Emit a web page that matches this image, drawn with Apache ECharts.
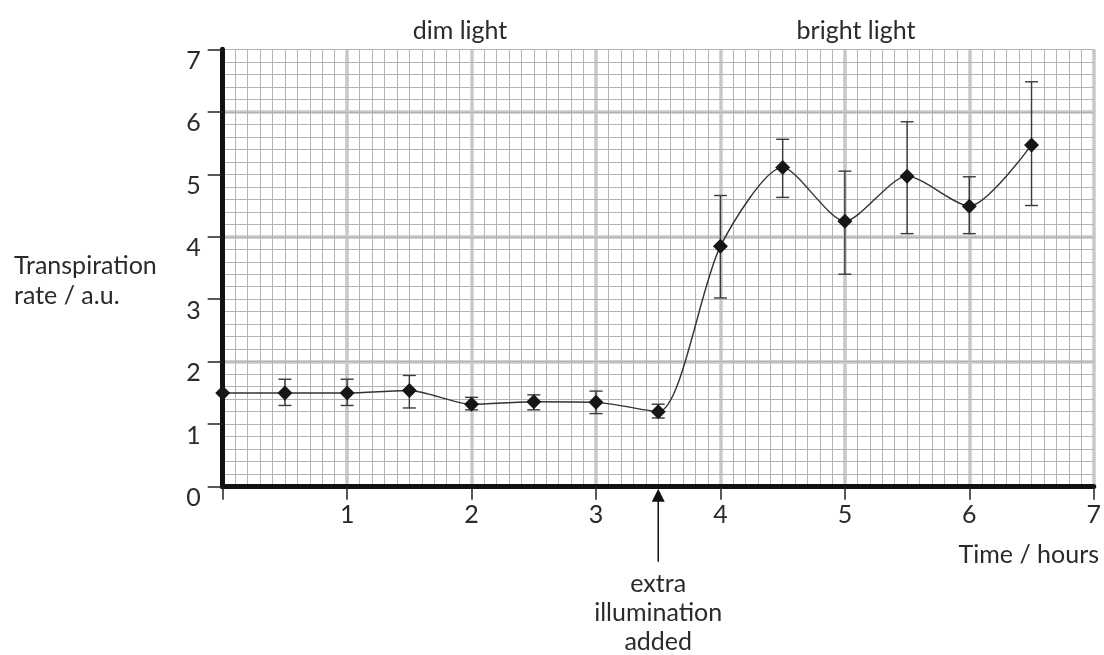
<!DOCTYPE html>
<html>
<head>
<meta charset="utf-8">
<script src="https://cdn.jsdelivr.net/npm/echarts@6/dist/echarts.min.js"></script>
<style>
html,body{margin:0;padding:0;background:#fff;}
#chart{width:1104px;height:655px;}
</style>
</head>
<body>
<div id="chart"></div>
<script>
// ---- data ----
const times    = [0, 0.5, 1, 1.5, 2, 2.5, 3, 3.5, 4, 4.5, 5, 5.5, 6, 6.5];
const rate     = [1.5, 1.5, 1.5, 1.54, 1.32, 1.36, 1.35, 1.2, 3.85, 5.11, 4.25, 4.97, 4.49, 5.47];
const errLow   = [null, 1.3, 1.3, 1.26, 1.23, 1.23, 1.17, 1.1, 3.02, 4.63, 3.4, 4.05, 4.05, 4.5];
const errHigh  = [null, 1.72, 1.72, 1.78, 1.43, 1.47, 1.53, 1.32, 4.66, 5.56, 5.05, 5.84, 4.96, 6.48];
const xTicks   = [1, 2, 3, 4, 5, 6, 7];
const yTicks   = [0, 1, 2, 3, 4, 5, 6, 7];
const yTitle   = 'Transpiration\nrate / a.u.';
const xTitle   = 'Time / hours';
const phaseLabels = ['dim light', 'bright light'];
const illumTime = 3.5;
const illumLabel = 'extra\nillumination\nadded';

const FONT = 'Lato';
const FS = 25;
const TXT = '#2a2a2a';
const MINOR = '#b4b4b4';
const MAJOR = '#c8c8c8';

const lineData = times.map((t, i) => [t, rate[i]]);
const errData = times.map((t, i) => [t, errLow[i], errHigh[i]]).filter(d => d[1] != null);

const chart = echarts.init(document.getElementById('chart'), null, {renderer: 'canvas'});

const option = {
  backgroundColor: '#fff',
  animation: false,
  grid: {left: 222.7, right: 6.3, top: 49.3, bottom: 168.3, containLabel: false},
  xAxis: [{
    type: 'value', min: 0, max: 7, interval: 1,
    axisLine: {show: true, onZero: false, lineStyle: {color: '#111', width: 5}},
    axisTick: {show: true, inside: false, length: 13, lineStyle: {color: '#222', width: 1.5}},
    axisLabel: {
      margin: 16, fontFamily: FONT, fontSize: FS, color: TXT,
      formatter: v => (xTicks.indexOf(v) >= 0 ? String(v) : '')
    },
    splitLine: {show: true, showMinLine: false, lineStyle: {color: MAJOR, width: 3.5}},
    minorTick: {show: false, splitNumber: 10},
    minorSplitLine: {show: true, lineStyle: {color: MINOR, width: 1}}
  }],
  yAxis: [{
    type: 'value', min: 0, max: 7, interval: 1,
    axisLine: {show: true, onZero: false, lineStyle: {color: '#111', width: 5}},
    axisTick: {show: true, inside: false, length: 15, lineStyle: {color: '#222', width: 1.5}},
    axisLabel: {
      margin: 22, fontFamily: FONT, fontSize: FS, color: TXT,
      verticalAlign: 'top', lineHeight: 23,
      formatter: v => (yTicks.indexOf(v) >= 0 ? String(v) : '')
    },
    splitLine: {show: true, showMinLine: false, lineStyle: {color: MINOR, width: 1}},
    minorTick: {show: false, splitNumber: 5},
    minorSplitLine: {show: true, lineStyle: {color: MINOR, width: 1}},
    z: 3
  }, {
    type: 'value', min: 0, max: 7, interval: 2, position: 'right',
    axisLine: {show: false}, axisTick: {show: false}, axisLabel: {show: false},
    splitLine: {show: true, showMinLine: false, showMaxLine: false, lineStyle: {color: MAJOR, width: 3.5}}
  }],
  series: [{
    type: 'line',
    name: 'Transpiration rate',
    data: lineData,
    smooth: 0.25,
    clip: false,
    symbol: 'diamond',
    symbolSize: [15, 15],
    itemStyle: {color: '#161616'},
    lineStyle: {color: '#333', width: 1.4},
    z: 5
  }, {
    type: 'custom',
    name: 'error',
    data: errData,
    clip: false,
    z: 4,
    renderItem: function (params, api) {
      const x = api.value(0);
      const lo = api.coord([x, api.value(1)]);
      const hi = api.coord([x, api.value(2)]);
      const hw = 6.5;
      const st = {stroke: '#3a3a3a', lineWidth: 1.4};
      return {
        type: 'group',
        children: [
          {type: 'line', shape: {x1: lo[0], y1: lo[1], x2: hi[0], y2: hi[1]}, style: st},
          {type: 'line', shape: {x1: lo[0] - hw, y1: lo[1], x2: lo[0] + hw, y2: lo[1]}, style: st},
          {type: 'line', shape: {x1: hi[0] - hw, y1: hi[1], x2: hi[0] + hw, y2: hi[1]}, style: st}
        ]
      };
    }
  }]
};
chart.setOption(option);

// annotations positioned through the chart's own scale
const base = chart.convertToPixel({gridIndex: 0}, [illumTime, 0]);
const ax = base[0];
const ay = base[1];
const font = FS + 'px ' + FONT;
chart.setOption({
  graphic: [
    {type: 'text', x: 460, y: 31, style: {text: phaseLabels[0], font: font, fill: TXT, align: 'center', verticalAlign: 'middle'}},
    {type: 'text', x: 856, y: 31, style: {text: phaseLabels[1], font: font, fill: TXT, align: 'center', verticalAlign: 'middle'}},
    {type: 'text', x: 14, y: 281, style: {text: yTitle, font: font, fill: TXT, align: 'left', verticalAlign: 'middle', lineHeight: 30}},
    {type: 'text', x: 1099, y: 555, style: {text: xTitle, font: font, fill: TXT, align: 'right', verticalAlign: 'middle'}},
    {type: 'polygon', shape: {points: [[ax, ay + 2], [ax - 6.5, ay + 15], [ax + 6.5, ay + 15]]}, style: {fill: '#111'}, z: 10},
    {type: 'line', shape: {x1: ax, y1: ay + 14, x2: ax, y2: ay + 75}, style: {stroke: '#111', lineWidth: 1.5}, z: 10},
    {type: 'text', x: ax, y: 613, style: {text: illumLabel, font: font, fill: TXT, align: 'center', verticalAlign: 'middle', lineHeight: 29}}
  ]
});
</script>
</body>
</html>
